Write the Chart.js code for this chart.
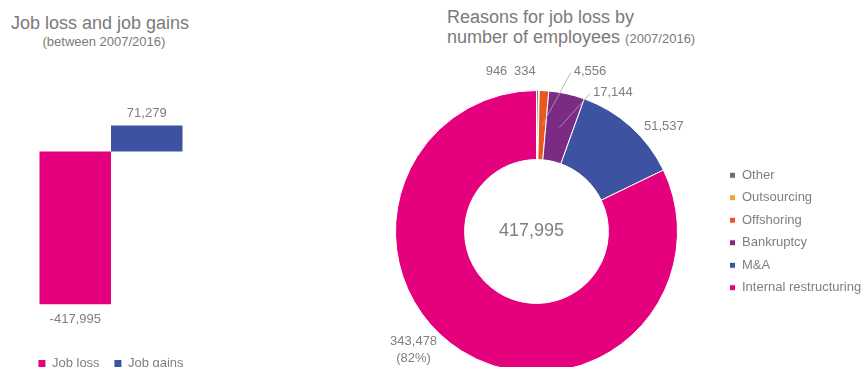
<!DOCTYPE html>
<html>
<head>
<meta charset="utf-8">
<title>Job loss and job gains</title>
<script src="https://cdn.jsdelivr.net/npm/chart.js@4/dist/chart.umd.min.js"></script>
<style>
  html, body { margin: 0; padding: 0; background: #fff; overflow: hidden; width: 866px; height: 367px; }
  body { position: relative; font-family: 'Liberation Sans', Arial, sans-serif; color: #7a7a7a; }
  .ttl { position: absolute; font-size: 18px; line-height: 19.5px; white-space: nowrap; }
  .sub { font-size: 13px; line-height: 13px; }
  canvas { position: absolute; top: 0; }
</style>
</head>
<body>
<div class="ttl" style="left:11px;top:13.5px">Job loss and job gains</div>
<div class="ttl sub" style="left:42.5px;top:34.5px">(between 2007/2016)</div>
<div class="ttl" style="left:447px;top:8px">Reasons for job loss by<br>number of employees <span style="font-size:13px">(2007/2016)</span></div>
<canvas id="flow" width="222" height="380" style="left:0"></canvas>
<canvas id="reasons" width="526" height="400" style="left:340px"></canvas>
<script>
// ─── Data ─────────────────────────────────────────────────────────
const flowLabels = ['Job loss', 'Job gains'];
const flowValues = [-417995, 71279];

const reasonLabels = ['Other', 'Outsourcing', 'Offshoring', 'Bankruptcy', 'M&A', 'Internal restructuring'];
const reasonValues = [946, 334, 4556, 17144, 51537, 343478];

// ─── Styling ──────────────────────────────────────────────────────
const flowColors   = ['#e5007d', '#3d52a1'];
const reasonColors = ['#6f6f6f', '#f2a33a', '#e9581e', '#7b2b83', '#3d52a1', '#e5007d'];

// where each slice label sits, relative to the outer middle of its slice
const labelShift = [[-41, -19], [-14, -19], [46, -19], [46, -1], [33, 0], [-48, -1]];
const withLeader = [false, false, true, true, false, false];
const withShare  = [false, false, false, false, false, true];

const FONT = "'Liberation Sans', Arial, sans-serif";
const TXT  = '#7f7f7f';
Chart.defaults.font.family = FONT;
Chart.defaults.color = TXT;
Chart.defaults.animation = false;

const fmt = v => v.toLocaleString('en-US');

// ─── Bar value labels ─────────────────────────────────────────────
const barValues = {
  id: 'barValues',
  afterDatasetsDraw(chart) {
    const { ctx } = chart;
    ctx.save();
    ctx.font = `13px ${FONT}`;
    ctx.fillStyle = TXT;
    ctx.textAlign = 'center';
    ctx.textBaseline = 'middle';
    chart.data.datasets.forEach((ds, i) => {
      chart.getDatasetMeta(i).data.forEach((bar, j) => {
        const v = ds.data[j];
        ctx.fillText(fmt(v), bar.x, v < 0 ? bar.y + 15 : bar.y - 12);
      });
    });
    ctx.restore();
  }
};

new Chart(document.getElementById('flow'), {
  type: 'bar',
  data: {
    labels: [''],
    datasets: flowLabels.map((l, i) => ({
      label: l,
      data: [flowValues[i]],
      backgroundColor: flowColors[i],
      borderWidth: 0,
      categoryPercentage: 143 / 222,
      barPercentage: 1,
    })),
  },
  options: {
    responsive: false,
    layout: { padding: { left: 0, right: 0, top: 115, bottom: 0 } },
    scales: {
      x: { display: false },
      y: { display: false, min: -521500, max: 100000 },
    },
    plugins: {
      legend: {
        position: 'bottom',
        labels: { color: TXT, font: { size: 13 }, boxWidth: 7, boxHeight: 7, padding: 14.8 },
      },
      tooltip: { enabled: false },
    },
  },
  plugins: [barValues],
});

// ─── Doughnut slice labels + total in the hole ────────────────────
const sliceValues = {
  id: 'sliceValues',
  afterDatasetsDraw(chart) {
    const { ctx } = chart;
    const meta = chart.getDatasetMeta(0);
    const total = reasonValues.reduce((a, b) => a + b, 0);
    ctx.save();
    ctx.font = `13px ${FONT}`;
    ctx.fillStyle = TXT;
    ctx.strokeStyle = '#a8a8a8';
    ctx.lineWidth = 0.8;
    ctx.textAlign = 'center';
    ctx.textBaseline = 'middle';
    let cx = 0, cy = 0;
    meta.data.forEach((arc, i) => {
      const { x, y, startAngle, endAngle, outerRadius, innerRadius } =
        arc.getProps(['x', 'y', 'startAngle', 'endAngle', 'outerRadius', 'innerRadius'], true);
      cx = x; cy = y;
      const mid = (startAngle + endAngle) / 2;
      const lx = x + Math.cos(mid) * outerRadius + labelShift[i][0];
      const ly = y + Math.sin(mid) * outerRadius + labelShift[i][1];
      const text = fmt(reasonValues[i]);
      if (withShare[i]) {
        ctx.fillText(text, lx, ly - 8.5);
        ctx.fillText(`(${Math.round(reasonValues[i] / total * 100)}%)`, lx, ly + 8.5);
      } else {
        ctx.fillText(text, lx, ly);
      }
      if (withLeader[i]) {
        const w = ctx.measureText(text).width;
        const r = (outerRadius + innerRadius) / 2;
        ctx.beginPath();
        ctx.moveTo(lx - w / 2 - 3, ly + 1);
        ctx.lineTo(x + Math.cos(mid) * r, y + Math.sin(mid) * r);
        ctx.stroke();
      }
    });
    ctx.font = `18px ${FONT}`;
    ctx.fillText(fmt(total), cx - 5, cy);
    ctx.restore();
  }
};

new Chart(document.getElementById('reasons'), {
  type: 'doughnut',
  data: {
    labels: reasonLabels,
    datasets: [{
      data: reasonValues,
      backgroundColor: reasonColors,
      borderColor: '#ffffff',
      borderWidth: 1,
      hoverOffset: 0,
    }],
  },
  options: {
    responsive: false,
    cutout: '51%',
    layout: { padding: { left: 13, right: 0, top: 90, bottom: 27 } },
    plugins: {
      legend: {
        position: 'right',
        maxWidth: 146,
        labels: { color: TXT, font: { size: 13 }, boxWidth: 6, boxHeight: 6, padding: 9.5 },
      },
      tooltip: { enabled: false },
    },
  },
  plugins: [sliceValues],
});
</script>
</body>
</html>
